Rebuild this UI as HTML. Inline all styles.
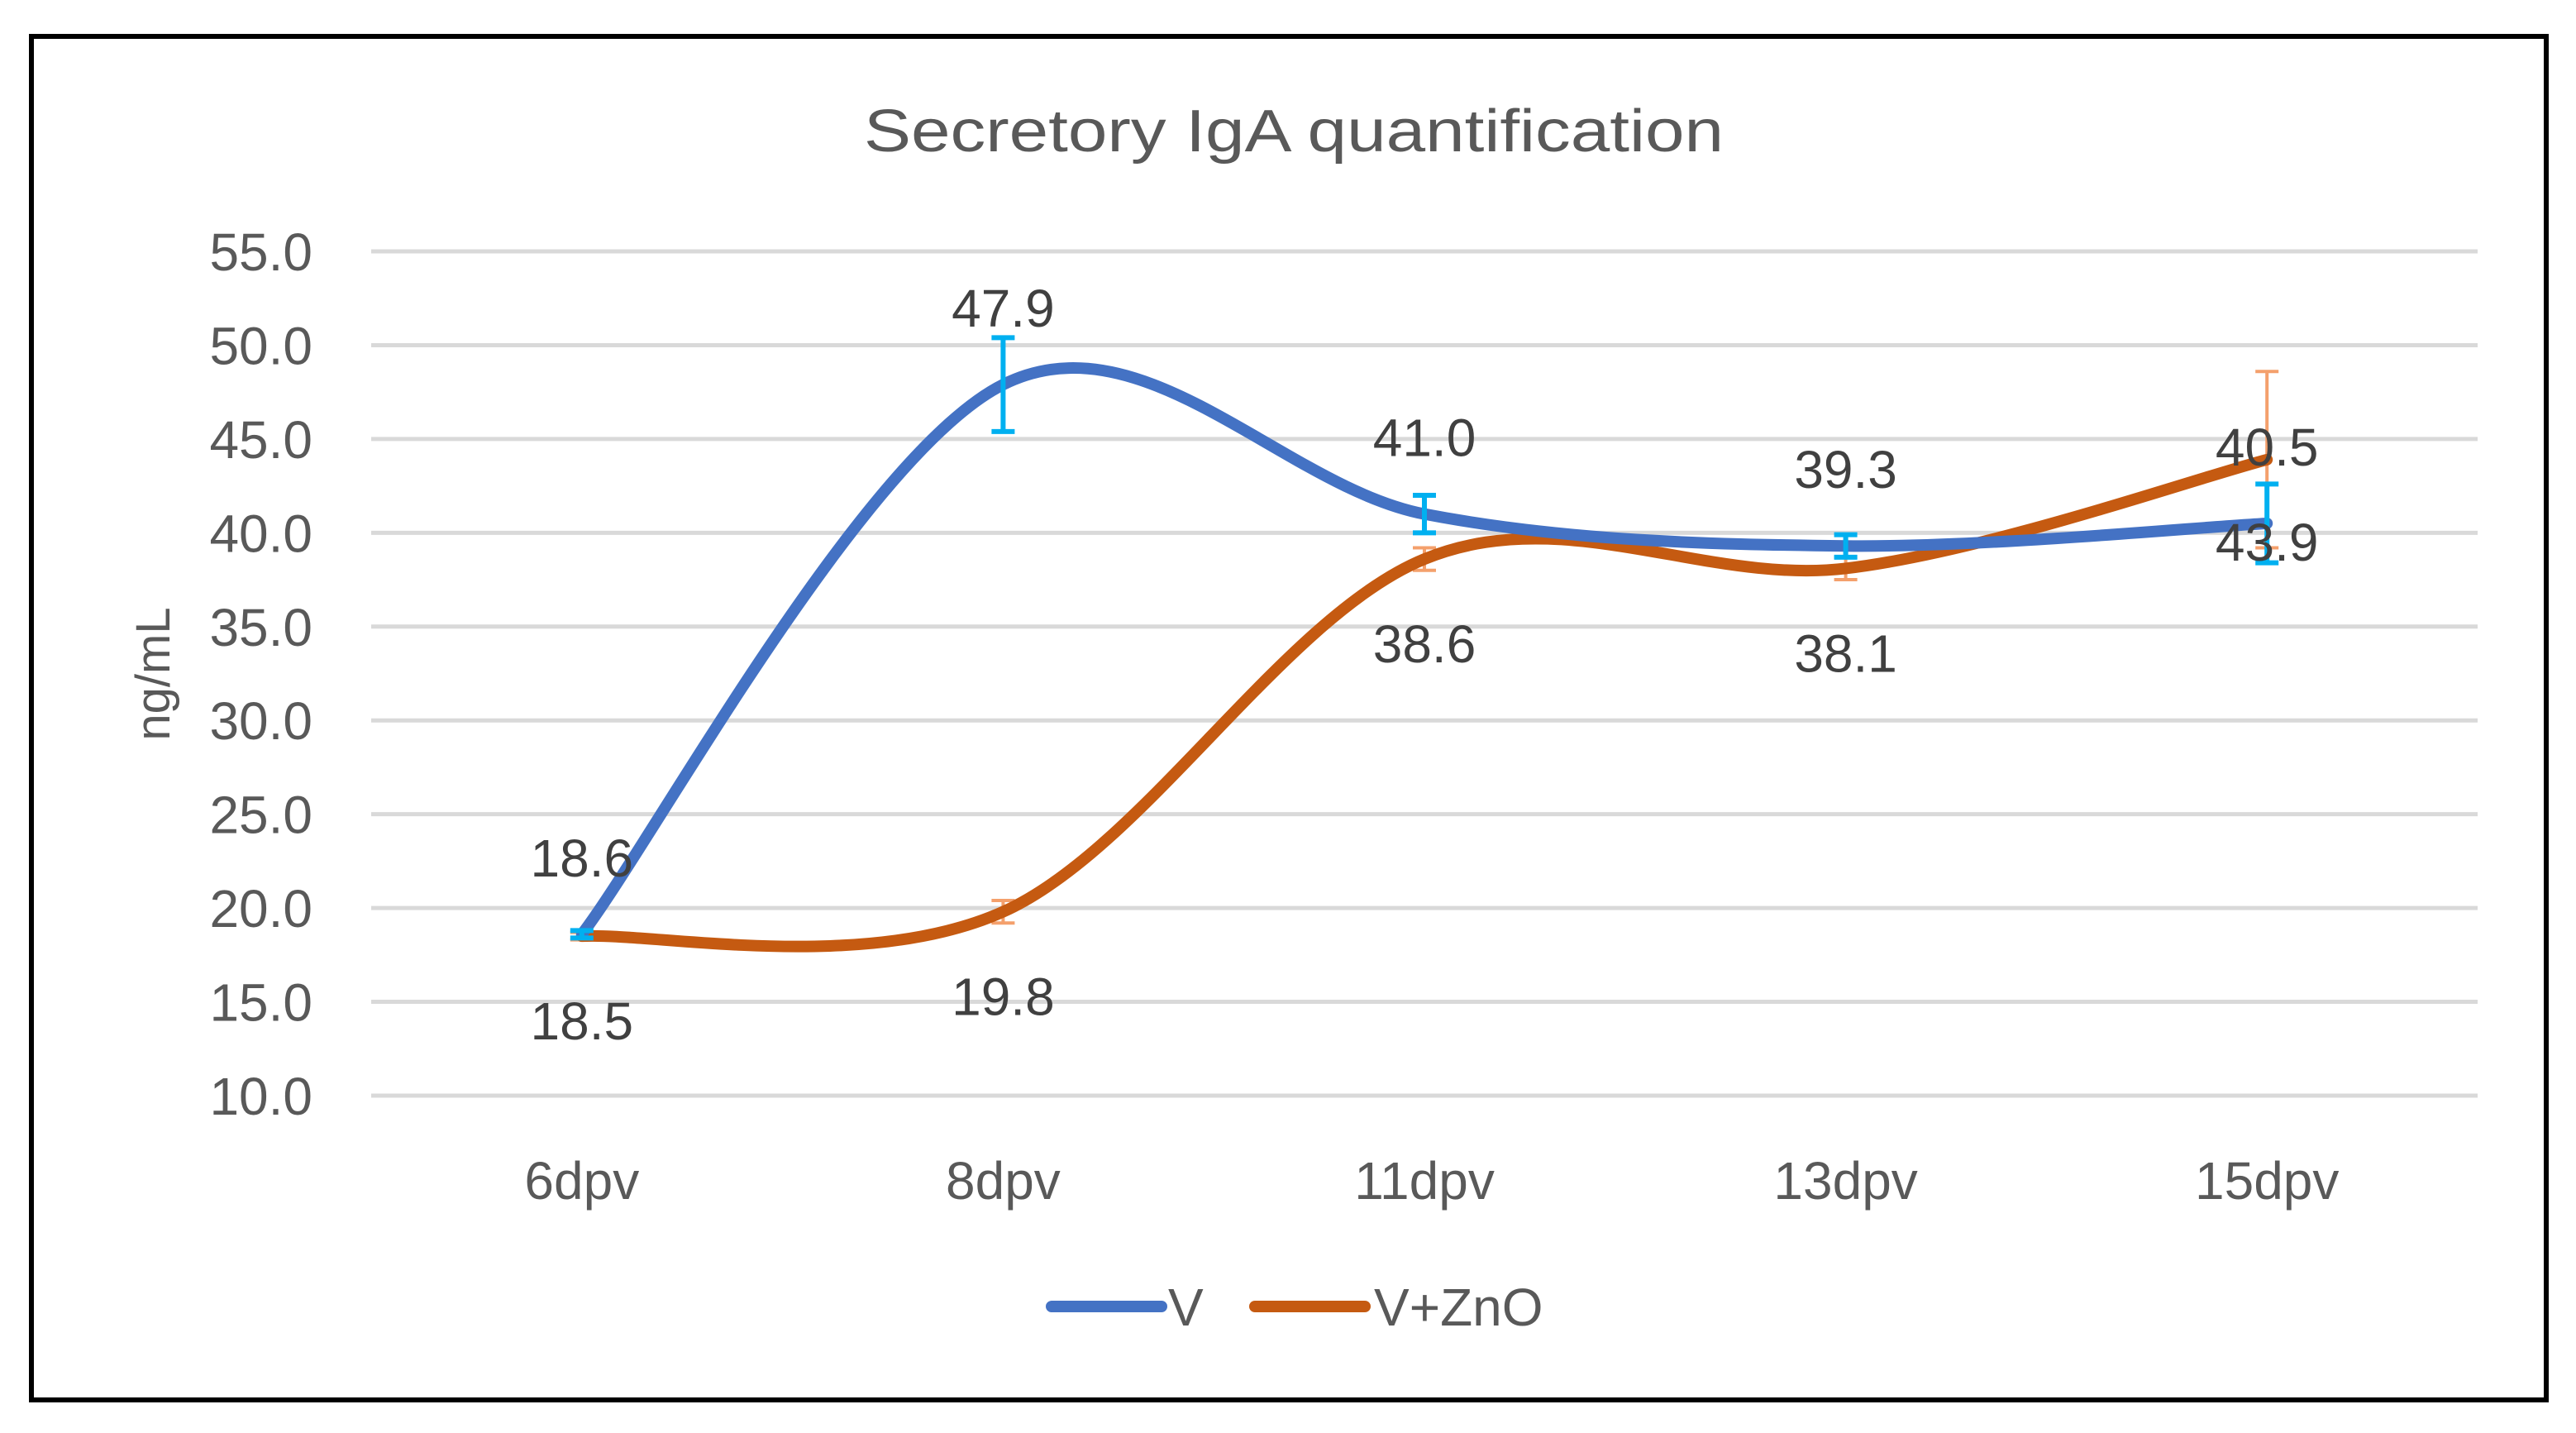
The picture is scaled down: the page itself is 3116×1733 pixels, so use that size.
<!DOCTYPE html>
<html><head><meta charset="utf-8"><style>
html,body{margin:0;padding:0;background:#fff;}
svg{display:block;font-family:"Liberation Sans",sans-serif;}
</style></head><body>
<svg id="chart" width="3116" height="1733" viewBox="0 0 3116 1733">
<rect x="38" y="44" width="3042" height="1649" fill="#fff" stroke="#000" stroke-width="6"/>
<text x="1565" y="183" font-size="72" fill="#595959" text-anchor="middle" textLength="1040" lengthAdjust="spacingAndGlyphs">Secretory IgA quantification</text>
<text transform="translate(205,815) rotate(-90)" font-size="58" fill="#595959" text-anchor="middle">ng/mL</text>
<g id="grid"></g><g id="yticks"></g><g id="xticks"></g><g id="series"></g><g id="labels"></g>
<g>
<line x1="1272" y1="1580" x2="1405" y2="1580" stroke="#4472C4" stroke-width="14" stroke-linecap="round"/>
<text x="1413" y="1603" font-size="64" fill="#595959">V</text>
<line x1="1518" y1="1580" x2="1651" y2="1580" stroke="#C55A11" stroke-width="14" stroke-linecap="round"/>
<text x="1662" y="1603" font-size="64" fill="#595959">V+ZnO</text>
</g>
</svg>
<script>
const categories = ["6dpv","8dpv","11dpv","13dpv","15dpv"];
const seriesV = [18.6, 47.9, 41.0, 39.3, 40.5];
const seriesZnO = [18.5, 19.8, 38.6, 38.1, 43.9];
const errV = [0.2, 2.5, 1.0, 0.6, 2.1];
const errZnO = [0.2, 0.6, 0.6, 0.6, 4.7];
const yTicks = [10,15,20,25,30,35,40,45,50,55];
const yTickLabels = ["10.0","15.0","20.0","25.0","30.0","35.0","40.0","45.0","50.0","55.0"];

const NS="http://www.w3.org/2000/svg";
const X0=449, X1=2997, Y0=1325, Y1=304, YMIN=10, YMAX=55;
const step=(X1-X0)/categories.length;
function xs(i){return X0+step*(i+0.5);}
function ys(v){return Y0-(v-YMIN)/(YMAX-YMIN)*(Y0-Y1);}
function mk(tag,attrs,parent){const e=document.createElementNS(NS,tag);for(const k in attrs)e.setAttribute(k,attrs[k]);document.getElementById(parent).appendChild(e);return e;}

yTicks.forEach((t,i)=>{
  const g=mk('line',{x1:X0,x2:X1,y1:ys(t),y2:ys(t),stroke:'#D9D9D9','stroke-width':5},'grid');
  
  
  const l=mk('text',{x:378,y:ys(t)+23,'font-size':64,fill:'#595959','text-anchor':'end'},'yticks');
  l.textContent=yTickLabels[i];
  
  
});
categories.forEach((c,i)=>{
  const l=mk('text',{x:xs(i),y:1450,'font-size':64,fill:'#595959','text-anchor':'middle'},'xticks');
  l.textContent=c;
  
  
});
function smooth(vals){
  const p=vals.map((v,i)=>[xs(i),ys(v)]);
  let d=`M${p[0][0]},${p[0][1]}`;
  for(let i=0;i<p.length-1;i++){
    const a=p[Math.max(0,i-1)],b=p[i],c=p[i+1],e=p[Math.min(p.length-1,i+2)];
    const t=1/6;
    d+=` C${b[0]+(c[0]-a[0])*t},${b[1]+(c[1]-a[1])*t} ${c[0]-(e[0]-b[0])*t},${c[1]-(e[1]-b[1])*t} ${c[0]},${c[1]}`;
  }
  return d;
}
function drawErr(vals,errs,color,w,name){
  vals.forEach((v,i)=>{
    const x=xs(i),a=ys(v+errs[i]),b=ys(v-errs[i]);
    const e=mk('path',{d:`M${x},${a}V${b}M${x-14},${a}H${x+14}M${x-14},${b}H${x+14}`,stroke:color,'stroke-width':w,fill:'none'},'series');
    
    
  });
}
drawErr(seriesZnO,errZnO,'#F4A06C',4,'error-bar-v-zno');
const pz=mk('path',{d:smooth(seriesZnO),stroke:'#C55A11','stroke-width':14,fill:'none','stroke-linecap':'round'},'series');


const pv=mk('path',{d:smooth(seriesV),stroke:'#4472C4','stroke-width':14,fill:'none','stroke-linecap':'round'},'series');


drawErr(seriesV,errV,'#00B0F0',6,'error-bar-v');
seriesV.forEach((v,i)=>{
  const l=mk('text',{x:xs(i),y:ys(v)-70,'font-size':64,fill:'#404040','text-anchor':'middle'},'labels');
  l.textContent=v.toFixed(1);
  
  
});
seriesZnO.forEach((v,i)=>{
  let y=ys(v)+125;
  if(i===4) y=ys(seriesV[i])+45;
  const l=mk('text',{x:xs(i),y:y,'font-size':64,fill:'#404040','text-anchor':'middle'},'labels');
  l.textContent=v.toFixed(1);
  
  
});
</script>
</body></html>
